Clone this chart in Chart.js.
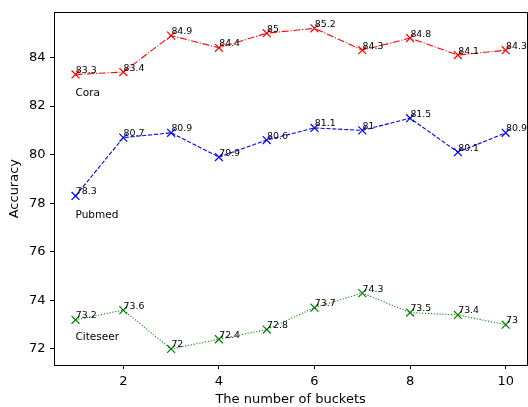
<!DOCTYPE html>
<html><head><meta charset="utf-8">
<script src="https://cdn.jsdelivr.net/npm/chart.js@4"></script>
<style>
html,body{margin:0;padding:0;overflow:hidden;background:#fff;width:528px;height:407px}
#wrap{width:534px;height:407px;}
canvas{display:block}
</style></head><body><div id="wrap"><canvas id="c" width="534" height="407"></canvas></div>
<script>
const buckets = [1,2,3,4,5,6,7,8,9,10];
const cora = [83.3, 83.4, 84.9, 84.4, 85, 85.2, 84.3, 84.8, 84.1, 84.3];
const pubmed = [78.3, 80.7, 80.9, 79.9, 80.6, 81.1, 81, 81.5, 80.1, 80.9];
const citeseer = [73.2, 73.6, 72, 72.4, 72.8, 73.7, 74.3, 73.5, 73.4, 73];
const seriesNames = ['Cora', 'Pubmed', 'Citeseer'];
const nameY = [82.4, 77.4, 72.35];
const xTicks = [2, 4, 6, 8, 10];
const yTicks = [72, 74, 76, 78, 80, 82, 84];

const FONT = "'DejaVu Sans', sans-serif";
const toPts = arr => buckets.map((b, i) => ({x: b, y: arr[i]}));

const mkDs = (label, arr, color, dash) => ({
  label, data: toPts(arr), borderColor: color, backgroundColor: color,
  borderWidth: 1.1, borderDash: dash, pointStyle: 'crossRot', pointRadius: 5.6,
  pointBorderColor: color, pointBorderWidth: 1.2, pointHoverRadius: 5.6, fill: false, tension: 0
});

const labelPlugin = {
  id: 'labels',
  afterDatasetsDraw(chart) {
    const ctx = chart.ctx;
    const ca = chart.chartArea;
    ctx.save();
    ctx.strokeStyle = '#000';
    ctx.lineWidth = 1;
    ctx.beginPath();
    ctx.moveTo(ca.left, Math.round(ca.top) + 0.5);
    ctx.lineTo(ca.right, Math.round(ca.top) + 0.5);
    ctx.moveTo(Math.round(ca.right) + 0.5, ca.top);
    ctx.lineTo(Math.round(ca.right) + 0.5, ca.bottom);
    ctx.stroke();
    ctx.fillStyle = '#000';
    ctx.textAlign = 'left';
    ctx.textBaseline = 'alphabetic';
    ctx.font = '9.4px ' + FONT;
    chart.data.datasets.forEach((ds, di) => {
      const meta = chart.getDatasetMeta(di);
      meta.data.forEach((pt, i) => {
        ctx.fillText(String(ds.data[i].y), pt.x + 0.3, pt.y - 1.5);
      });
    });
    ctx.font = '10.5px ' + FONT;
    const xs = chart.scales.x, ys = chart.scales.y;
    seriesNames.forEach((n, i) => {
      ctx.fillText(n, xs.getPixelForValue(buckets[0]), ys.getPixelForValue(nameY[i]));
    });
    ctx.restore();
  }
};

new Chart(document.getElementById('c'), {
  type: 'line',
  data: {
    datasets: [
      mkDs('Cora', cora, '#ff0000', [7, 1.8, 1.1, 1.8]),
      mkDs('Pubmed', pubmed, '#0000ff', [4.1, 1.8]),
      mkDs('Citeseer', citeseer, '#008000', [1.1, 1.8])
    ]
  },
  options: {
    responsive: false,
    animation: false,
    layout: {padding: {top: 10.6, right: 4, left: 0, bottom: 0}},
    plugins: {legend: {display: false}, tooltip: {enabled: false}},
    scales: {
      x: {
        type: 'linear', min: 0.55, max: 10.45,
        afterBuildTicks: s => { s.ticks = xTicks.map(v => ({value: v})); },
        afterFit: s => { s.height = 42; },
        grid: {display: true, drawOnChartArea: false, drawTicks: true, tickLength: 4, tickColor: '#000', tickWidth: 1},
        border: {display: true, color: '#000', width: 1},
        ticks: {color: '#000', padding: 5, font: {family: FONT, size: 13}, maxRotation: 0, autoSkip: false},
        title: {display: true, text: 'The number of buckets', color: '#000', font: {family: FONT, size: 13}, padding: {top: 0, bottom: 0}}
      },
      y: {
        type: 'linear', min: 71.34, max: 85.86,
        afterBuildTicks: s => { s.ticks = yTicks.map(v => ({value: v})); },
        afterFit: s => { s.width = 54; },
        grid: {display: true, drawOnChartArea: false, drawTicks: true, tickLength: 4, tickColor: '#000', tickWidth: 1},
        border: {display: true, color: '#000', width: 1},
        ticks: {color: '#000', padding: 4.5, font: {family: FONT, size: 13}, autoSkip: false},
        title: {display: true, text: 'Accuracy', color: '#000', font: {family: FONT, size: 13}, padding: {top: 6.5, bottom: 0}}
      }
    }
  },
  plugins: [labelPlugin]
});
</script>
</body></html>
